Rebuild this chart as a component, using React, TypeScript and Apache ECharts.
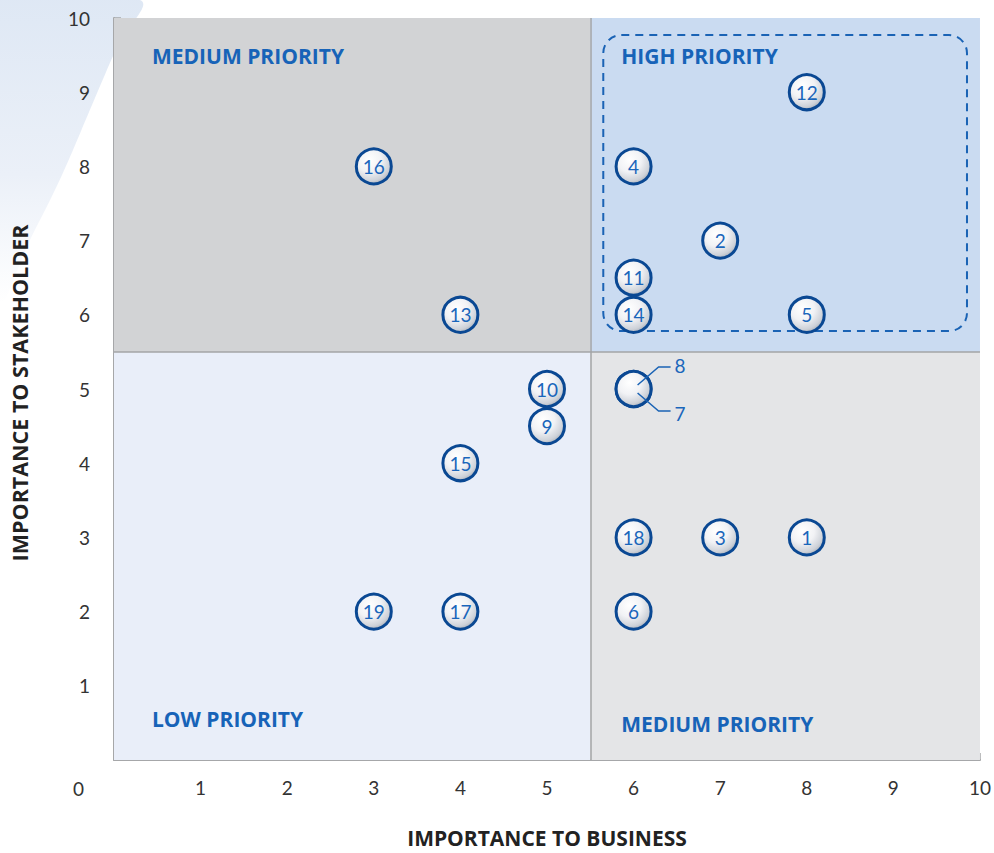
import React, { useEffect, useRef } from "react";
import * as echarts from "echarts";

const itemIds = ["1","2","3","4","5","6","7","8","9","10","11","12","13","14","15","16","17","18","19"];
const businessValues = [8, 7, 7, 6, 8, 6, 6, 6, 5, 5, 6, 8, 4, 6, 4, 3, 4, 6, 3];
const stakeholderValues = [3, 7, 3, 8, 6, 2, 5, 5, 4.5, 5, 6.5, 9, 6, 6, 4, 8, 2, 3, 2];
const calloutIds = ["8", "7"];

const axisTicks = [0, 1, 2, 3, 4, 5, 6, 7, 8, 9, 10];
const splitValue = 5.5;

const quadrantNames = ["MEDIUM PRIORITY", "HIGH PRIORITY", "LOW PRIORITY", "MEDIUM PRIORITY"];
const quadrantX = [[0, 5.5], [5.5, 10], [0, 5.5], [5.5, 10]];
const quadrantY = [[5.5, 10], [5.5, 10], [0, 5.5], [0, 5.5]];
const quadrantColors = ["#d2d3d5", "#cadbf1", "#e9eef9", "#e4e5e7"];

const highPriorityBox = [5.65, 9.77, 9.85, 5.78]; // x0, yTop, x1, yBottom

const FONT = "Lato, 'Open Sans', sans-serif";
const TITLE_FONT = "'Open Sans', Lato, sans-serif";
const BLUE = "#1763b8";

export default function App() {
  const ref = useRef<HTMLDivElement>(null);
  useEffect(() => {
    if (!ref.current) return;
    const chart = echarts.init(ref.current, null, { renderer: "svg" });

    const labelPos = [
      { position: "insideTopLeft", offset: [38, 27] },
      { position: "insideTopLeft", offset: [31, 27] },
      { position: "insideBottomLeft", offset: [38, -31] },
      { position: "insideBottomLeft", offset: [31, -26] },
    ];

    const markAreaData = quadrantNames.map((name, i) => [
      {
        name,
        xAxis: quadrantX[i][0],
        yAxis: quadrantY[i][0],
        itemStyle: { color: quadrantColors[i], opacity: 1 },
        label: {
          show: true,
          position: labelPos[i].position,
          distance: 0,
          offset: labelPos[i].offset,
          color: BLUE,
          fontFamily: TITLE_FONT,
          fontWeight: "bold",
          fontSize: 21,
        },
      },
      { xAxis: quadrantX[i][1], yAxis: quadrantY[i][1] },
    ]);

    const scatterData = itemIds.map((id, i) => ({
      value: [businessValues[i], stakeholderValues[i]],
      name: id,
    }));

    const calloutData = calloutIds.map((id) => {
      const i = itemIds.indexOf(id);
      return [businessValues[i], stakeholderValues[i], id];
    });

    const sphere = new echarts.graphic.RadialGradient(0.38, 0.32, 0.75, [
      { offset: 0, color: "#ffffff" },
      { offset: 0.45, color: "#f1f2f5" },
      { offset: 0.8, color: "#cdd1d8" },
      { offset: 1, color: "#9ea4ad" },
    ]);

    chart.setOption({
      animation: false,
      backgroundColor: "#ffffff",
      graphic: [
        {
          type: "polygon",
          z: -10,
          shape: {
            points: [[0, 0], [140, 0], [118, 45], [92, 105], [62, 175], [30, 240], [0, 300]],
            smooth: 0.4,
          },
          style: {
            fill: new echarts.graphic.LinearGradient(0, 0, 0, 1, [
              { offset: 0, color: "#dde7f4" },
              { offset: 0.6, color: "#ebf0f8" },
              { offset: 1, color: "#ffffff" },
            ]),
          },
        },
        {
          type: "text",
          left: 73,
          top: 779,
          style: { text: "0", fontSize: 19, fontFamily: FONT, fill: "#333333" },
        },
      ],
      grid: { left: 113, right: 14, top: 18, bottom: 90 },
      xAxis: {
        type: "value",
        min: axisTicks[0],
        max: axisTicks[axisTicks.length - 1],
        interval: 1,
        name: "IMPORTANCE TO BUSINESS",
        nameLocation: "middle",
        nameGap: 67,
        nameTextStyle: { fontFamily: TITLE_FONT, fontWeight: "bold", fontSize: 21, color: "#222222" },
        axisLine: { show: true, lineStyle: { color: "#a6a7a9", width: 2 } },
        axisTick: { show: true, inside: true, length: 7, lineStyle: { color: "#a6a7a9", width: 1.5 } },
        axisLabel: { showMinLabel: false, margin: 18, fontSize: 19, fontFamily: FONT, color: "#333333" },
        splitLine: { show: false },
      },
      yAxis: {
        type: "value",
        min: axisTicks[0],
        max: axisTicks[axisTicks.length - 1],
        interval: 1,
        name: "IMPORTANCE TO STAKEHOLDER",
        nameLocation: "middle",
        nameRotate: 90,
        nameGap: 84,
        nameTextStyle: {
          fontFamily: TITLE_FONT,
          fontWeight: "bold",
          fontSize: 21.5,
          color: "#222222",
          padding: [0, 8, 0, 0],
        },
        axisLine: { show: true, lineStyle: { color: "#a6a7a9", width: 2 } },
        axisTick: { show: true, inside: true, length: 7, lineStyle: { color: "#a6a7a9", width: 1.5 } },
        axisLabel: { showMinLabel: false, margin: 24, fontSize: 19, fontFamily: FONT, color: "#333333" },
        splitLine: { show: false },
      },
      series: [
        {
          type: "custom",
          z: 3,
          silent: true,
          data: [highPriorityBox],
          renderItem: (params: any, api: any) => {
            const p0 = api.coord([api.value(0), api.value(1)]);
            const p1 = api.coord([api.value(2), api.value(3)]);
            return {
              type: "rect",
              shape: { x: p0[0], y: p0[1], width: p1[0] - p0[0], height: p1[1] - p0[1], r: 18 },
              style: { fill: "none", stroke: "#1a63b5", lineWidth: 2, lineDash: [8, 6] },
            };
          },
        },
        {
          type: "scatter",
          z: 5,
          symbol: "circle",
          symbolSize: 35,
          data: scatterData,
          itemStyle: { color: sphere, borderColor: "#0a4893", borderWidth: 3, opacity: 1 },
          label: {
            show: true,
            position: "inside",
            formatter: (p: any) => (calloutIds.includes(p.name) ? "" : p.name),
            color: "#1a66bb",
            fontSize: 19,
            fontFamily: FONT,
          },
          markArea: { silent: true, z: 1, data: markAreaData },
          markLine: {
            silent: true,
            symbol: "none",
            label: { show: false },
            lineStyle: { color: "#a3a4a6", width: 1.5, type: "solid" },
            data: [{ xAxis: splitValue }, { yAxis: splitValue }],
          },
        },
        {
          type: "custom",
          z: 6,
          silent: true,
          data: calloutData,
          renderItem: (params: any, api: any) => {
            const c = api.coord([api.value(0), api.value(1)]);
            const up = params.dataIndex === 0;
            const s = up ? -1 : 1;
            return {
              type: "group",
              children: [
                {
                  type: "polyline",
                  shape: {
                    points: [
                      [c[0] + 4, c[1] + s * 4],
                      [c[0] + 25, c[1] + s * 22],
                      [c[0] + 37, c[1] + s * 22],
                    ],
                  },
                  style: { stroke: "#1a63b5", lineWidth: 1.5, fill: "none" },
                },
                {
                  type: "text",
                  style: {
                    text: String(api.value(2)),
                    x: c[0] + 41,
                    y: c[1] + s * 24,
                    verticalAlign: "middle",
                    fill: "#1a66bb",
                    fontSize: 19,
                    fontFamily: FONT,
                  },
                },
              ],
            };
          },
        },
      ],
    });
    return () => chart.dispose();
  }, []);
  return (
    <div
      ref={ref}
      style={{ position: "fixed", left: 0, top: 0, width: 994, height: 853 }}
    />
  );
}
